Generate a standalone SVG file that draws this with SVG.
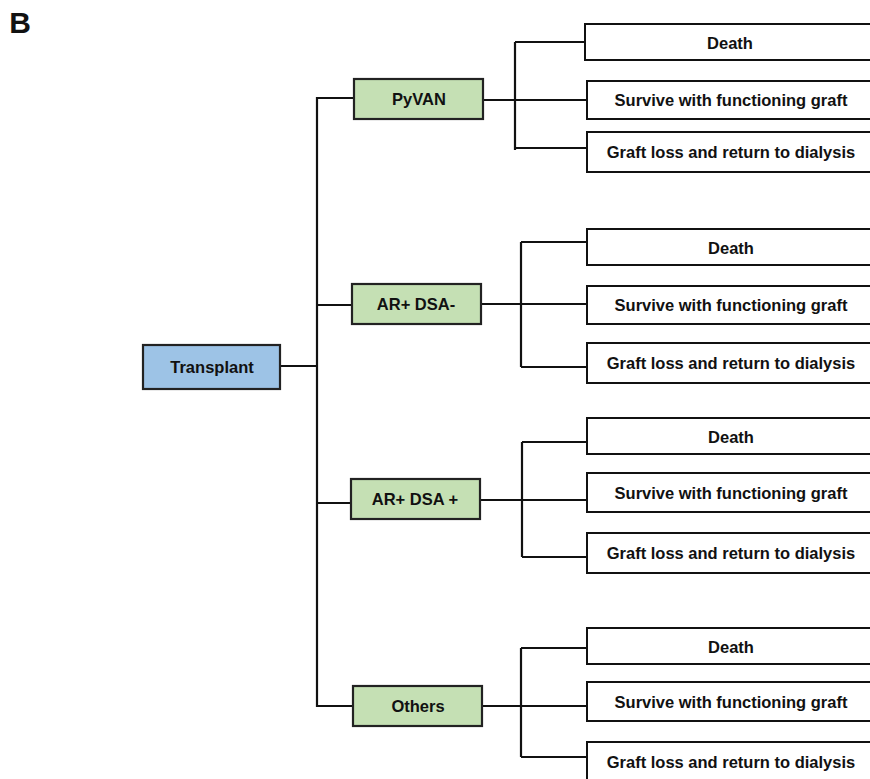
<svg xmlns="http://www.w3.org/2000/svg" width="870" height="779" viewBox="0 0 870 779">
<style>
text{font-family:"Liberation Sans",Arial,sans-serif;font-weight:bold;fill:#111;text-anchor:middle}
.lbl{font-size:16.5px}
.out{fill:#fff;stroke:#111;stroke-width:2}
.cat{fill:#C5E0B4;stroke:#222;stroke-width:2.2}
.root{fill:#9DC3E6;stroke:#222;stroke-width:2.2}
.conn path{fill:none;stroke:#111;stroke-width:2.2}
</style>
<rect width="870" height="779" fill="#fff"/>
<text x="20" y="33" style="font-size:30px">B</text>
<g class="conn" id="connectors">
<path d="M280,366H317M354,98H317V706H353"/>
<path d="M317,305H352M317,503H351"/>
<path d="M483,100H587M515,42V150M515,42H586M515,148H587"/>
<path d="M481,304H587M521,242V367M521,242H587M521,367H587"/>
<path d="M480,500H587M522,442V557M522,442H587M522,557H587"/>
<path d="M482,706H587M521,648V757M521,648H587M521,757H587"/>
</g>
<g id="transplant"><rect class="root" x="143" y="345" width="137" height="44"/><text class="lbl" x="212" y="373">Transplant</text></g>
<g id="pyvan"><rect class="cat" x="354" y="79" width="129" height="40"/><text class="lbl" x="419" y="105">PyVAN</text></g>
<g id="ar-dsa-neg"><rect class="cat" x="352" y="284" width="129" height="40"/><text class="lbl" x="416" y="310">AR+ DSA-</text></g>
<g id="ar-dsa-pos"><rect class="cat" x="351" y="479" width="129" height="40"/><text class="lbl" x="415" y="505">AR+ DSA +</text></g>
<g id="others"><rect class="cat" x="353" y="686" width="129" height="40"/><text class="lbl" x="418" y="712">Others</text></g>
<g id="g1-death"><rect class="out" x="585" y="24" width="300" height="36"/><text class="lbl" x="730" y="49">Death</text></g>
<g id="g1-survive"><rect class="out" x="587" y="81" width="300" height="38"/><text class="lbl" x="731" y="106">Survive with functioning graft</text></g>
<g id="g1-graft"><rect class="out" x="587" y="132" width="300" height="40"/><text class="lbl" x="731" y="158">Graft loss and return to dialysis</text></g>
<g id="g2-death"><rect class="out" x="587" y="229" width="300" height="36"/><text class="lbl" x="731" y="254">Death</text></g>
<g id="g2-survive"><rect class="out" x="587" y="286" width="300" height="38"/><text class="lbl" x="731" y="311">Survive with functioning graft</text></g>
<g id="g2-graft"><rect class="out" x="587" y="343" width="300" height="40"/><text class="lbl" x="731" y="369">Graft loss and return to dialysis</text></g>
<g id="g3-death"><rect class="out" x="587" y="418" width="300" height="36"/><text class="lbl" x="731" y="443">Death</text></g>
<g id="g3-survive"><rect class="out" x="587" y="473" width="300" height="39"/><text class="lbl" x="731" y="499">Survive with functioning graft</text></g>
<g id="g3-graft"><rect class="out" x="587" y="533" width="300" height="40"/><text class="lbl" x="731" y="559">Graft loss and return to dialysis</text></g>
<g id="g4-death"><rect class="out" x="587" y="628" width="300" height="36"/><text class="lbl" x="731" y="653">Death</text></g>
<g id="g4-survive"><rect class="out" x="587" y="682" width="300" height="39"/><text class="lbl" x="731" y="708">Survive with functioning graft</text></g>
<g id="g4-graft"><rect class="out" x="587" y="742" width="300" height="40"/><text class="lbl" x="731" y="768">Graft loss and return to dialysis</text></g>
</svg>
